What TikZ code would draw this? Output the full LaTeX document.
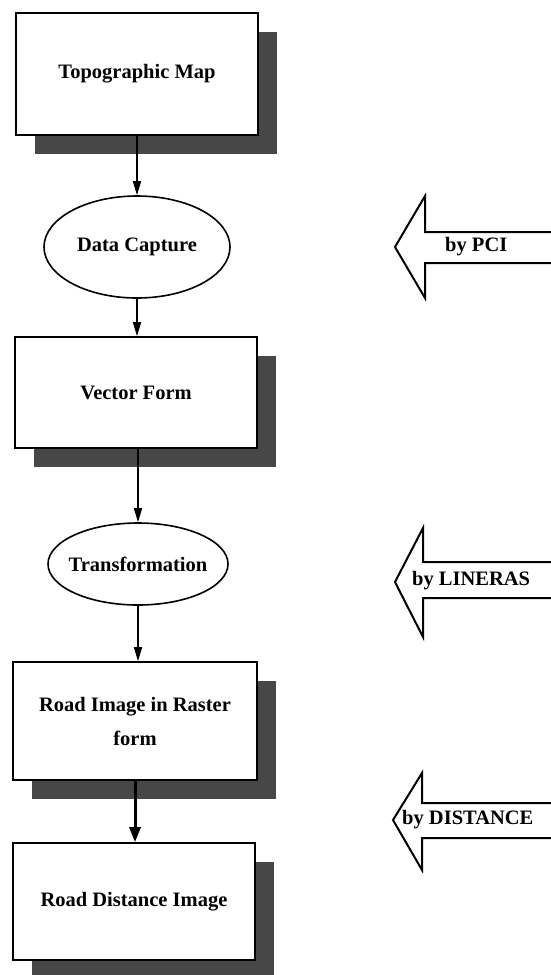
\documentclass[tikz,border=0pt]{standalone}
\usepackage{fontspec}
\setmainfont{Liberation Serif}
\usetikzlibrary{arrows.meta,shapes.geometric,shadows}

\begin{document}
\begin{tikzpicture}[x=1pt,y=-1pt,
  lbl/.style={font=\bfseries\fontsize{20.5}{34}\selectfont, inner sep=0pt},
  stagebox/.style={draw=black, line width=1.6pt, fill=white, rectangle,
    inner sep=0pt, align=center, lbl,
    drop shadow={shadow xshift=19pt, shadow yshift=-19pt,
      fill=black!72, opacity=1}},
  process/.style={draw=black, line width=1.6pt, fill=white, ellipse,
    lbl, inner xsep=-6pt, inner ysep=0pt},
  flow/.style={draw=black, line width=1.6pt,
    -{Triangle[length=14pt,width=8pt]}},
  heavyflow/.style={draw=black, line width=3pt,
    -{Triangle[length=15pt,width=11pt]}},
  blockarrow/.style={draw=black, line width=2pt, fill=white,
    line join=miter}
]
\useasboundingbox (0,0) rectangle (551,975);
\fill[white] (0,0) rectangle (551,975);

% flow chart stages
\node[stagebox, minimum width=242pt, minimum height=122pt] (topo) at (137,74) {Topographic Map};
\node[process, minimum width=186pt, minimum height=102pt] (capture) at (137,247) {Data Capture};
\node[stagebox, minimum width=242pt, minimum height=111pt] (vector) at (136,392.5) {Vector Form};
\node[process, minimum width=180pt, minimum height=82pt] (transf) at (138,564) {Transformation};
\node[stagebox, minimum width=244pt, minimum height=118pt] (raster) at (135,721) {Road Image in Raster\\form};
\node[stagebox, minimum width=242pt, minimum height=117pt] (dist) at (134,901.5) {Road Distance Image};

% connectors
\draw[flow] (topo.south -| capture.north) -- (capture.north);
\draw[flow] (capture.south) -- (capture.south |- vector.north);
\draw[flow] (vector.south -| transf.north) -- (transf.north);
\draw[flow] (transf.south) -- (transf.south |- raster.north);
\draw[heavyflow] (raster.south) -- (raster.south |- dist.north);

% software block arrows pointing back at the chart
\draw[blockarrow] (551,232) -- (425,232) -- (425,196) -- (395,247)
  -- (425,298) -- (425,263) -- (551,263);
\node[lbl, anchor=west] (pci) at (445,247) {by PCI};

\draw[blockarrow] (551,562) -- (423,562) -- (423,528) -- (395,582)
  -- (423,637) -- (423,598) -- (551,598);
\node[lbl, anchor=west] (lineras) at (412,581) {by LINERAS};

\draw[blockarrow] (551,803) -- (422,803) -- (422,773) -- (393,820)
  -- (422,870) -- (422,838) -- (551,838);
\node[lbl, anchor=west] (distance) at (402,820) {by DISTANCE};
\end{tikzpicture}
\end{document}
